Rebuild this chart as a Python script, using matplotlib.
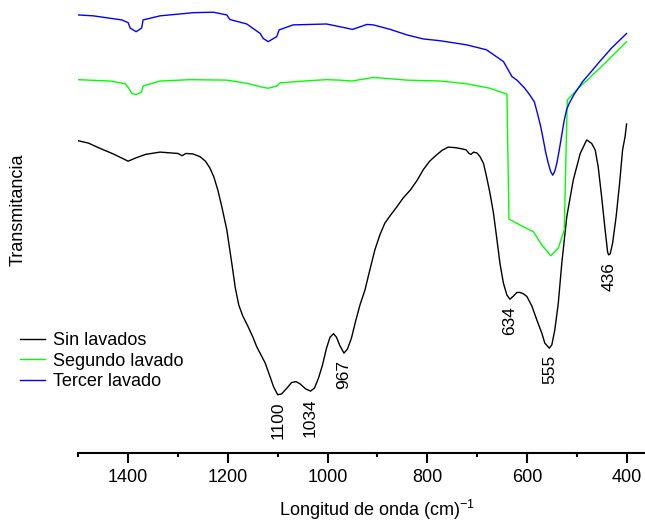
import matplotlib
matplotlib.use("Agg")
import matplotlib.pyplot as plt
from matplotlib.ticker import MultipleLocator

plt.rcParams['font.family'] = ['Liberation Sans', 'DejaVu Sans']
plt.rcParams['mathtext.fontset'] = 'custom'
plt.rcParams['mathtext.rm'] = 'Liberation Sans'
plt.rcParams['mathtext.it'] = 'Liberation Sans:italic'
plt.rcParams['mathtext.bf'] = 'Liberation Sans:bold'

# FTIR spectra: wavenumber (cm^-1) and transmittance (arbitrary units, offset per sample)
wn_sin = [1500, 1480, 1456, 1430, 1400, 1385, 1365, 1336, 1300, 1292, 1284, 1270,
          1256, 1245, 1236, 1228, 1220, 1212, 1202, 1192, 1185, 1178, 1170, 1160,
          1150, 1142, 1125, 1115, 1108, 1100, 1092, 1082, 1072, 1063, 1055, 1044,
          1034, 1026, 1018, 1010, 1002, 995, 988, 982, 975, 967, 960, 952, 944,
          935, 925, 915, 905, 895, 885, 872, 861, 848, 834, 820, 808, 795, 781,
          770, 758, 745, 734, 722, 716, 712, 707, 700, 694, 687, 681, 674, 667,
          660, 654, 647, 640, 634, 627, 620, 614, 607, 600, 590, 580, 570, 564,
          555, 550, 544, 537, 530, 520, 507, 493, 480, 470, 463, 457, 450, 443,
          438, 436, 433, 428, 421, 414, 408, 403, 400]
t_sin = [68.9, 68.4, 67.2, 66.0, 64.4, 65.1, 65.9, 66.4, 66.1, 65.6, 66.1, 66.0,
         65.4, 64.4, 62.9, 60.9, 58.0, 54.3, 49.2, 41.8, 36.4, 32.6, 30.2, 28.0,
         25.6, 23.4, 19.8, 16.7, 14.5, 12.8, 13.0, 14.2, 15.5, 15.7, 15.2, 14.1,
         13.6, 14.3, 16.5, 19.4, 23.1, 25.5, 26.3, 25.5, 23.6, 22.0, 22.9, 25.3,
         28.9, 32.6, 35.9, 40.4, 44.8, 48.1, 50.7, 52.7, 54.3, 56.3, 58.0, 60.2,
         62.5, 64.4, 65.8, 66.8, 67.5, 67.4, 67.2, 66.9, 66.1, 65.9, 66.4, 66.2,
         65.4, 63.9, 61.0, 57.3, 52.9, 47.0, 41.8, 37.4, 34.8, 33.9, 34.6, 35.4,
         35.4, 35.1, 34.5, 32.4, 29.3, 26.4, 24.2, 23.1, 23.8, 27.1, 33.0, 41.8,
         52.1, 60.2, 66.1, 69.1, 68.3, 66.9, 63.2, 56.5, 49.2, 44.3, 43.7, 43.9,
         46.3, 52.1, 59.5, 66.9, 69.8, 72.6]

wn_seg = [1500, 1436, 1406, 1400, 1393, 1384, 1373, 1370, 1336, 1276, 1202, 1162,
          1129, 1119, 1102, 1095, 1035, 1002, 975, 951, 908, 841, 774, 721, 674,
          640, 636, 614, 587, 570, 552, 537, 525, 519, 495, 454, 400]
t_seg = [82.4, 82.1, 81.5, 80.7, 79.4, 79.1, 79.7, 81.0, 82.1, 82.4, 82.3, 81.6,
         80.7, 80.5, 81.0, 81.7, 82.2, 82.4, 82.3, 82.1, 82.9, 82.3, 82.1, 81.5,
         80.5, 79.2, 51.6, 50.3, 48.8, 45.9, 43.5, 45.2, 49.2, 77.9, 80.7, 84.9,
         90.8]

wn_ter = [1500, 1470, 1413, 1400, 1396, 1384, 1373, 1370, 1336, 1269, 1229, 1202,
          1196, 1162, 1135, 1129, 1119, 1102, 1097, 1069, 1002, 962, 950, 921, 908,
          874, 841, 808, 774, 721, 681, 647, 630, 620, 605, 594, 585, 578, 572,
          567, 562, 557, 552, 548, 544, 540, 535, 530, 525, 520, 515, 505, 488,
          470, 454, 430, 400]
t_ter = [96.7, 96.5, 95.6, 95.0, 93.8, 93.0, 93.8, 95.6, 96.5, 97.2, 97.3, 96.7,
         95.7, 94.7, 92.6, 91.5, 90.8, 91.9, 93.4, 94.5, 94.7, 93.8, 93.5, 94.6,
         94.5, 93.5, 92.3, 91.4, 91.0, 90.1, 89.0, 86.4, 83.1, 82.3, 80.6, 79.0,
         77.5, 74.6, 71.9, 69.1, 66.2, 63.9, 62.0, 61.3, 62.2, 63.9, 66.9, 70.2,
         73.5, 75.9, 77.2, 79.2, 82.0, 84.3, 86.4, 89.4, 92.6]

series_names = ["Sin lavados", "Segundo lavado", "Tercer lavado"]
series_colors = ["#000000", "#00ff00", "#0000ff"]

# bands marked on the untreated sample
peak_wn = [1100, 1034, 967, 634, 555, 436]

fig = plt.figure(figsize=(6.45, 5.21), dpi=100)
ax = fig.add_axes([0.1214, 0.1311, 0.9273, 0.8689])

for wn, t, name, color in zip([wn_sin, wn_seg, wn_ter], [t_sin, t_seg, t_ter],
                              series_names, series_colors):
    ax.plot(wn, t, color=color, lw=1.0, label=name)

for p in peak_wn:
    tval = t_sin[wn_sin.index(p)]
    ax.annotate(str(p), xy=(p, tval), xytext=(0, -5), textcoords="offset points",
                rotation=90, ha="center", va="top", fontsize=12.5)

ax.set_xlim(1500, 300)
ax.set_ylim(0, 100)
for side in ("left", "right", "top"):
    ax.spines[side].set_visible(False)
ax.spines["bottom"].set_linewidth(1.5)
ax.set_yticks([])
ax.set_xticks([1400, 1200, 1000, 800, 600, 400])
ax.xaxis.set_minor_locator(MultipleLocator(100))
ax.tick_params(axis="x", which="major", length=7, width=1.5, labelsize=13, pad=4.5)
ax.tick_params(axis="x", which="minor", length=3, width=1.5)
ax.set_xlabel("Longitud de onda (cm)$^{\\mathrm{-1}}$", fontsize=13, labelpad=9)

fig.text(18 / 645, 1 - 210 / 521, "Transmitancia", rotation=90,
         ha="center", va="center", fontsize=13)

ax.legend(loc="upper left", bbox_to_anchor=(20 / 645, 1 - 332 / 521),
          bbox_transform=fig.transFigure, frameon=False, fontsize=13,
          borderpad=0, borderaxespad=0, labelspacing=0.2,
          handlelength=1.4, handletextpad=0.45)

fig.savefig("out.png", dpi=100)
